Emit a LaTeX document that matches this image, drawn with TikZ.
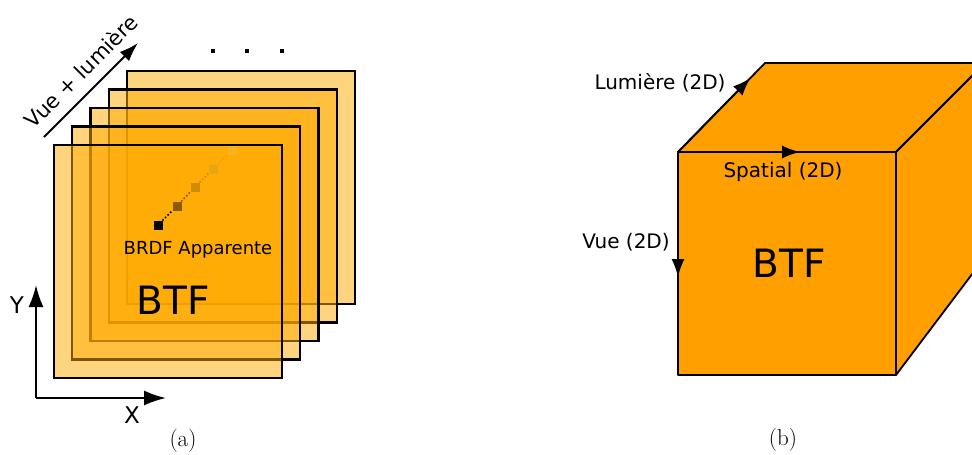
\documentclass[tikz,border=0pt]{standalone}
\usepackage{fontspec}
\usetikzlibrary{arrows.meta}
\newfontfamily\dvfont{DejaVu Sans}
\definecolor{sheetorange}{RGB}{255,170,0}
\definecolor{cubeorange}{RGB}{255,159,0}
\definecolor{brdfa}{RGB}{0,0,0}
\definecolor{brdfb}{RGB}{140,90,0}
\definecolor{brdfc}{RGB}{205,140,10}
\definecolor{brdfd}{RGB}{232,165,20}
\definecolor{brdfe}{RGB}{246,180,35}
\begin{document}
\begin{tikzpicture}[x=1pt,y=-1pt,
  sheet/.style={fill=sheetorange,fill opacity=0.5,draw=black,line width=2.2pt},
  cubeface/.style={fill=cubeorange,draw=black,line width=1.8pt,line join=round},
  lbl/.style={font=\dvfont\fontsize{20}{24}\selectfont,inner sep=0pt},
  big/.style={font=\dvfont\fontsize{39}{44}\selectfont,inner sep=0pt},
  axis/.style={line width=2pt,-{Latex[length=22pt,width=15pt]}},
  edgearrow/.style={line width=1.8pt,-{Latex[length=18pt,width=13pt]}},
  brdfpt/.style={minimum size=9pt,inner sep=0pt,outer sep=0pt},
  captext/.style={font=\fontsize{23}{27}\selectfont,inner sep=0pt}]
\useasboundingbox (0,0) rectangle (972,455);
\clip (0,0) rectangle (972,455);
% ---------- panel (a) ----------
\foreach \i in {4,3,2,1,0}{
  \draw[sheet] ({54+18.2*\i},{145-18.5*\i}) rectangle ({282+18.2*\i},{378-18.5*\i});
}
% dots
\foreach \x/\n in {213/d1,247/d2,282/d3}{
  \node[fill=black,minimum size=4.5pt,inner sep=0pt] (\n) at (\x,51) {};
}
% BRDF points
\node[brdfpt,fill=brdfe] (p5) at (232,150) {};
\node[brdfpt,fill=brdfd] (p4) at (213,169) {};
\node[brdfpt,fill=brdfc] (p3) at (195,187) {};
\node[brdfpt,fill=brdfb] (p2) at (177,206) {};
\node[brdfpt,fill=brdfa] (p1) at (158,225) {};
\draw[brdfa,dotted,line width=1.6pt] (p1) -- (p2);
\draw[brdfb,dotted,line width=1.6pt] (p2) -- (p3);
\draw[brdfc,dotted,line width=1.6pt] (p3) -- (p4);
\draw[brdfd,dotted,line width=1.6pt] (p4) -- (p5);
\node[font=\dvfont\fontsize{18}{22}\selectfont,inner sep=0pt] (brdf) at (198,250) {BRDF Apparente};
\node[big] (btfa) at (173,300) {BTF};
% view + light arrow
\coordinate (vl0) at (44,137);
\coordinate (vl1) at (138,43);
\draw[line width=2pt,-{Latex[length=19pt,width=13pt]}] (vl0) -- (vl1);
\node[font=\dvfont\fontsize{21}{25}\selectfont,inner sep=0pt,rotate=45] (vltext) at (81,71) {Vue + lumière};
% axes
\coordinate (o) at (36,398);
\coordinate (ytip) at (36,285);
\coordinate (xtip) at (166,398);
\draw[axis] (o) -- (ytip);
\draw[axis] (o) -- (xtip);
\node[font=\dvfont\fontsize{23}{27}\selectfont,inner sep=0pt] (ylab) at (17,305) {Y};
\node[font=\dvfont\fontsize{23}{27}\selectfont,inner sep=0pt] (xlab) at (132,415) {X};
\node[captext] (capa) at (183,441) {(a)};
% ---------- panel (b) ----------
\coordinate (fa) at (678,152);
\coordinate (fb) at (896,152);
\coordinate (fc) at (896,375);
\coordinate (fd) at (678,375);
\coordinate (ta) at (765,63);
\coordinate (tb) at (985,63);
\coordinate (rb) at (985,257);
\draw[cubeface] (fa) -- (ta) -- (tb) -- (fb) -- cycle;
\draw[cubeface] (fb) -- (tb) -- (rb) -- (fc) -- cycle;
\draw[cubeface] (fa) rectangle (fc);
\coordinate (lumtip) at (750.5,78);
\coordinate (spatip) at (800,152);
\coordinate (vuetip) at (678,277);
\draw[edgearrow] (fa) -- (lumtip);
\draw[edgearrow] (fa) -- (spatip);
\draw[edgearrow] (fa) -- (vuetip);
\node[lbl] (lum) at (660,83) {Lumière (2D)};
\node[lbl] (spa) at (783,172) {Spatial (2D)};
\node[lbl] (vue) at (626,242) {Vue (2D)};
\node[big] (btfb) at (789,263) {BTF};
\node[captext] (capb) at (783,440) {(b)};
\end{tikzpicture}
\end{document}
